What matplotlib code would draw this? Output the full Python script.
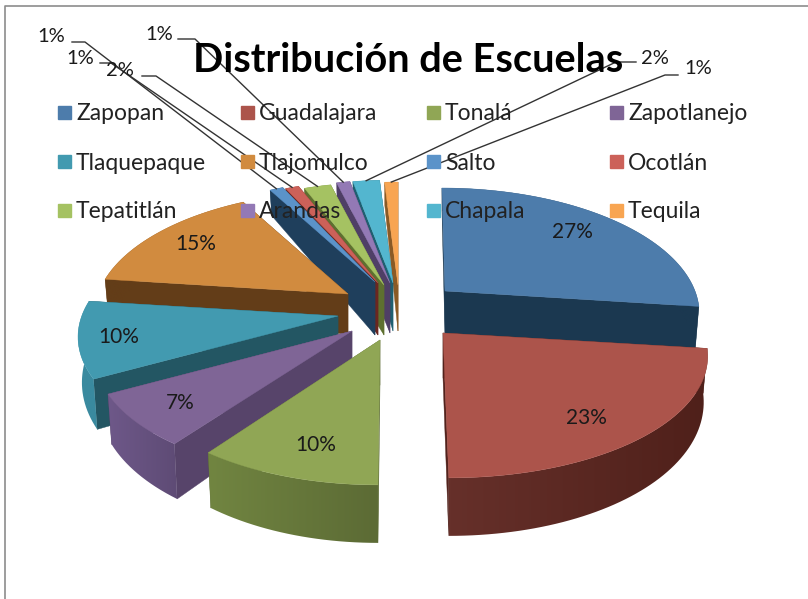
import numpy as np
import matplotlib
matplotlib.use('Agg')
import matplotlib.pyplot as plt
from matplotlib.colors import to_rgb
from matplotlib.patches import Polygon, Rectangle

plt.rcParams['font.family'] = ['Lato', 'DejaVu Sans']

title = 'Distribución de Escuelas'
names = ['Zapopan', 'Guadalajara', 'Tonalá', 'Zapotlanejo', 'Tlaquepaque', 'Tlajomulco',
         'Salto', 'Ocotlán', 'Tepatitlán', 'Arandas', 'Chapala', 'Tequila']
values = [27, 23, 10, 7, 10, 15, 1, 1, 2, 1, 2, 1]

top_colors = ['#4d7cab', '#ac544b', '#90a655', '#7f6596', '#429ab0', '#d18b3f',
              '#5b93c9', '#cc6159', '#a5c262', '#9379b5', '#53b6cf', '#f8a552']
side_colors = ['#1b3850', '#52221c', '#5c6b35', '#57446a', '#235663', '#633d18',
               '#1f3f5c', '#6b2620', '#5e7030', '#4f3f66', '#1f5f70', '#8a5a25']
# outer rim shading, left end to right end
rim_colors = [('#1b3850', '#1b3850'), ('#66302a', '#4f201a'), ('#718541', '#5c6b35'),
              ('#6e5889', '#5e4b75'), ('#3a8a9f', '#3a8a9f'), ('#633d18', '#633d18'),
              ('#1f3f5c', '#1f3f5c'), ('#6b2620', '#6b2620'), ('#5e7030', '#5e7030'),
              ('#4f3f66', '#4f3f66'), ('#1f5f70', '#1f5f70'), ('#8a5a25', '#8a5a25')]

# pixel layout of the exploded slices
apex_x = [445, 443, 380, 352, 338, 348, 375, 378, 384, 390, 393, 398]
apex_y = [291, 333, 340, 331, 316, 294, 282, 283, 285, 283, 283, 285]
apex_depth = [45, 45, 45, 45, 45, 40, 53, 52, 50, 50, 48, 46]
rx_scale = [1.0, 1.04, 1.0, 1.01, 1.025, 1.0, 1.0, 1.0, 1.0, 1.0, 1.0, 1.0]
shear = [0.03, 0.04, -0.014, -0.05, 0.0, 0.0, 0.0, 0.0, 0.0, 0.0, 0.0, 0.0]
draw_order = [11, 10, 9, 8, 7, 6, 0, 5, 4, 3, 1, 2]

RX, RY, PERSP = 250, 120.4, 0.169
BOTTOM_SCALE = 0.985


def rim_point(i, angle):
    """Perspective projection of a point on the rim of slice i."""
    cx, cy = np.cos(angle), np.sin(angle)
    w = 1 + PERSP * cy
    dy = -RY * cy / w
    return apex_x[i] + RX * rx_scale[i] * cx / w + shear[i] * dy, apex_y[i] + dy


def rim_depth(angle):
    return np.interp(np.sin(angle), [-1, 0, 1], [58, 43, 23])


def draw_slice(ax, i, a0, a1, z):
    x0, y0 = apex_x[i], apex_y[i]
    angles = np.linspace(a0, a1, max(4, int(abs(a1 - a0) * 40)))
    tx, ty = rim_point(i, angles)
    bx = x0 + (tx - x0) * BOTTOM_SCALE
    by = ty + rim_depth(angles)
    ad = apex_depth[i]

    # cut faces first, the top face hides the ones turned away
    for k in (0, -1):
        ax.fill([x0, tx[k], bx[k], x0], [y0, ty[k], by[k], y0 + ad],
                color=side_colors[i], lw=0.3, zorder=z)

    # outer rim, a horizontal gradient clipped to the rim outline
    left, right = np.array(to_rgb(rim_colors[i][0])), np.array(to_rgb(rim_colors[i][1]))
    grad = np.linspace(left, right, 64)[np.newaxis, :, :]
    xa, xb = min(tx.min(), bx.min()), max(tx.max(), bx.max())
    img = ax.imshow(grad, extent=[xa, xb, by.max(), ty.min()], aspect='auto',
                    interpolation='bilinear', zorder=z + 0.01)
    outline = Polygon(np.c_[np.r_[tx, bx[::-1]], np.r_[ty, by[::-1]]], transform=ax.transData)
    img.set_clip_path(outline)

    ax.fill(np.r_[x0, tx], np.r_[y0, ty], color=top_colors[i], lw=0.3, zorder=z + 0.02)


fig = plt.figure(figsize=(8.08, 5.99), dpi=100)
ax = fig.add_axes([0, 0, 1, 1])
ax.axis('off')

# frame of the pasted chart
ax.plot([5, 5, 808], [599, 6, 6], color='#8c8c8c', lw=1.2)

# slice angles come from the values, clockwise from 12 o'clock
edges = np.pi / 2 - 2 * np.pi * np.cumsum([0] + values) / sum(values)
for n, i in enumerate(draw_order):
    draw_slice(ax, i, edges[i], edges[i + 1], 1 + n * 0.1)

# value labels on the big slices
inside_x = [572, 586, 316, 180, 119, 196]
inside_y = [232, 418, 445, 403, 337, 244]
for i in range(6):
    ax.text(inside_x[i], inside_y[i], f'{values[i]}%', ha='center', va='center',
            fontsize=15, color='#1a1a1a', zorder=6)

# leader lines for the small slices
outside_idx = [6, 7, 8, 9, 10, 11]
label_x = [51, 80, 120, 159, 655, 698]
label_y = [36, 59, 71, 35, 58, 68]
elbow_x0 = [72, 100, 142, 178, 636, 678]
elbow_x1 = [85, 111, 156, 195, 616, 665]
elbow_y = [42, 63, 76, 39, 62, 75]
for n, i in enumerate(outside_idx):
    mid = (edges[i] + edges[i + 1]) / 2
    ex, ey = rim_point(i, mid)
    ax.plot([elbow_x0[n], elbow_x1[n], ex], [elbow_y[n], elbow_y[n], ey],
            color='#333333', lw=1.0, zorder=5)
    ax.text(label_x[n], label_y[n], f'{values[i]}%', ha='center', va='center',
            fontsize=14.5, color='#1a1a1a', zorder=6)

ax.text(408, 60, title, ha='center', va='center', fontsize=28.6, fontweight='bold',
        color='black', zorder=6)

# legend, filled row by row
swatch_x = [58, 241, 427, 610]
swatch_y = [113, 162, 211]
for i, name in enumerate(names):
    sx, sy = swatch_x[i % 4], swatch_y[i // 4]
    ax.add_patch(Rectangle((sx, sy - 7), 13, 13, color=top_colors[i], zorder=6))
    ax.text(sx + 18, sy + 1, name, ha='left', va='center', fontsize=16.5, color='#222222', zorder=6)

ax.set_xlim(0, 808)
ax.set_ylim(599, 0)
fig.savefig('out.png', dpi=100)
